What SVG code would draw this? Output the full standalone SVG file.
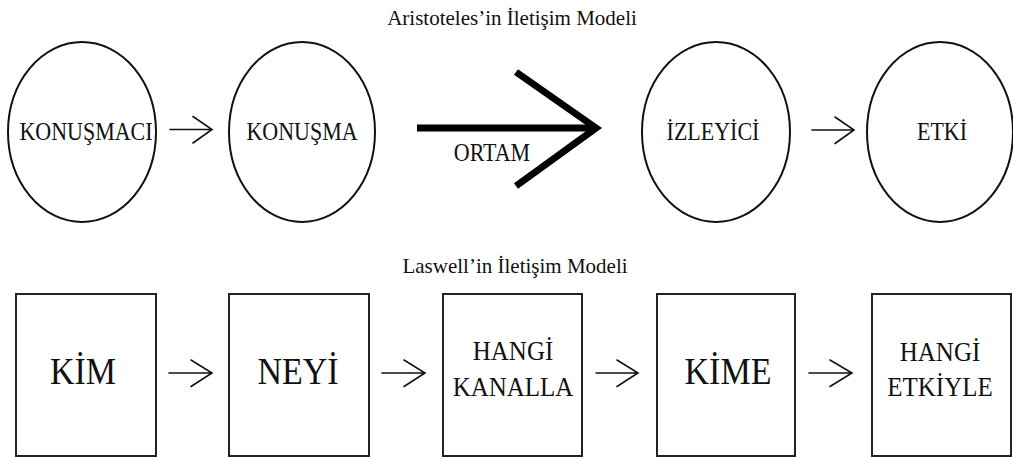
<svg xmlns="http://www.w3.org/2000/svg" width="1013" height="459" viewBox="0 0 1013 459">
  <style>
    .title { font-size: 21px; }
    .oval { fill: none; stroke: #111; stroke-width: 2; }
    .box { fill: none; stroke: #222; stroke-width: 2; }
    .lbl { font-size: 22px; }
    .big { font-size: 34px; }
    .mid { font-size: 25px; }
    .thin { fill: none; stroke: #111; stroke-width: 1.6; stroke-linecap: round; stroke-linejoin: miter; }
    .thick { fill: none; stroke: #000; stroke-width: 7; stroke-linecap: butt; stroke-linejoin: miter; }
  </style>
  <rect width="1013" height="459" fill="#fff"/>

  <g font-family="Liberation Serif, serif" fill="#111" text-anchor="middle">
    <!-- Aristotle model -->
    <text class="title" x="512" y="25">Aristoteles’in İletişim Modeli</text>

    <g id="konusmaci">
      <ellipse class="oval" cx="82" cy="132" rx="74" ry="90"/>
      <text class="lbl" transform="translate(86 139.5) scale(1 1.1)">KONUŞMACI</text>
    </g>
    <g id="konusma">
      <ellipse class="oval" cx="302" cy="132" rx="73" ry="90"/>
      <text class="lbl" transform="translate(302 139.5) scale(1 1.1)">KONUŞMA</text>
    </g>
    <g id="izleyici">
      <ellipse class="oval" cx="716" cy="132" rx="74" ry="90"/>
      <text class="lbl" transform="translate(713 139.5) scale(1 1.1)">İZLEYİCİ</text>
    </g>
    <g id="etki">
      <ellipse class="oval" cx="940" cy="132" rx="73" ry="90"/>
      <text class="lbl" transform="translate(942 139.5) scale(1 1.1)">ETKİ</text>
    </g>

    <!-- Lasswell model -->
    <text class="title" x="515" y="273">Laswell’in İletişim Modeli</text>

    <g id="kim">
      <rect class="box" x="16" y="294" width="140" height="162"/>
      <text class="big" transform="translate(83 384) scale(1 1.1)">KİM</text>
    </g>
    <g id="neyi">
      <rect class="box" x="229" y="294" width="140" height="162"/>
      <text class="big" transform="translate(298 384) scale(1 1.1)">NEYİ</text>
    </g>
    <g id="hangi-kanalla">
      <rect class="box" x="443" y="294" width="139" height="162"/>
      <text class="mid" transform="translate(513 360) scale(1 1.07)">HANGİ</text>
      <text class="mid" transform="translate(513 396) scale(1 1.07)">KANALLA</text>
    </g>
    <g id="kime">
      <rect class="box" x="657" y="294" width="138" height="162"/>
      <text class="big" transform="translate(728 384) scale(1 1.1)">KİME</text>
    </g>
    <g id="hangi-etkiyle">
      <rect class="box" x="872" y="294" width="139" height="162"/>
      <text class="mid" transform="translate(940 361) scale(1 1.07)">HANGİ</text>
      <text class="mid" transform="translate(940 396) scale(1 1.07)">ETKİYLE</text>
    </g>

    <!-- connectors -->
    <g id="connectors">
      <path class="thin" d="M170 129.5 H212 M193 116.5 L212 129.5 L193 143"/>
      <path class="thick" d="M417 128 H595"/>
      <path class="thick" d="M516 72 L596 128 L516 186"/>
      <text class="lbl" transform="translate(492 161) scale(1 1.1)">ORTAM</text>
      <path class="thin" d="M812 130 H854 M835 117 L854 130 L835 143.5"/>

      <path class="thin" d="M169 373 H212 M191 360 L212 373 L191 386.5"/>
      <path class="thin" d="M382 373 H425 M404 360 L425 373 L404 386.5"/>
      <path class="thin" d="M596 373 H638 M617 360 L638 373 L617 386.5"/>
      <path class="thin" d="M809 373 H852 M830 360 L852 373 L830 386.5"/>
    </g>
  </g>
</svg>
